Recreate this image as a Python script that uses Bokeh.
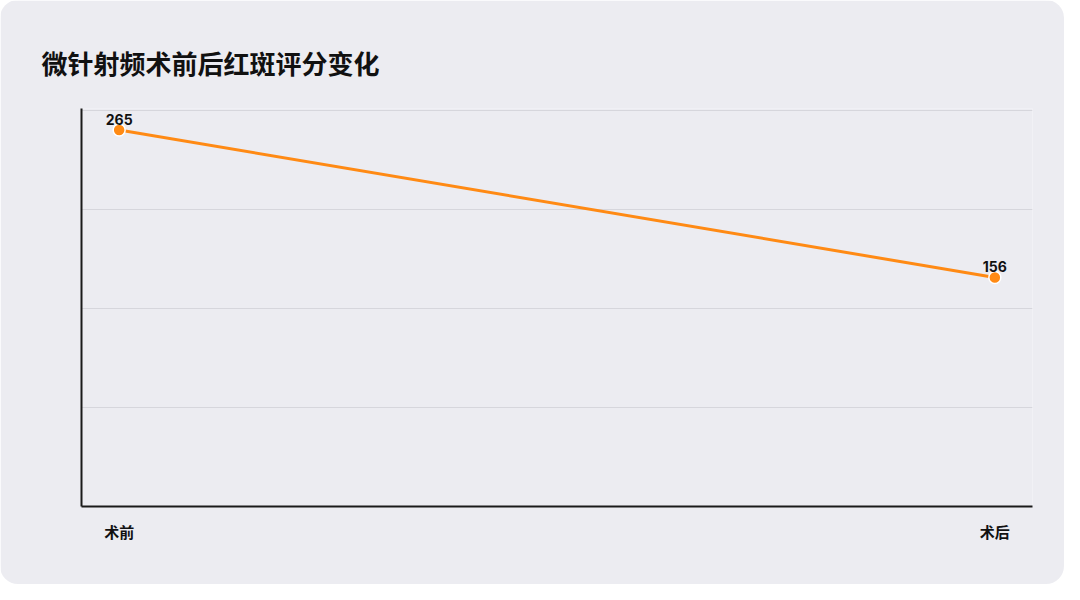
from bokeh.plotting import figure
from bokeh.models import Range1d, FixedTicker, ColumnDataSource, InlineStyleSheet
from bokeh.core.properties import value
from bokeh.embed import file_html
from bokeh.resources import INLINE

title = "微针射频术前后红斑评分变化"
categories = ["术前", "术后"]
scores = [265, 156]

x_pos = list(range(len(categories)))
src = ColumnDataSource(dict(x=x_pos, y=scores, label=[str(v) for v in scores]))

BG = "#ECECF1"
y_lo, y_hi = -13.3, 279.4
y_ticks = [y_lo + i * (y_hi - y_lo) / 4 for i in range(5)]

p = figure(width=1064, height=584, output_backend="svg", toolbar_location=None,
           x_range=Range1d(-0.043, len(categories) - 1 + 0.043),
           y_range=Range1d(y_lo, y_hi + 1.5),
           min_border_left=81, min_border_right=32, min_border_top=108, min_border_bottom=78)
p.stylesheets = [InlineStyleSheet(css=":host { border-radius: 18px; overflow: hidden; }")]
p.background_fill_color = BG
p.border_fill_color = BG
p.outline_line_color = None

p.title.text = title
p.title.text_font = "Noto Sans CJK SC"
p.title.text_font_size = "26px"
p.title.text_font_style = "bold"
p.title.text_color = "#111111"
p.title.offset = -40
p.title.vertical_align = "top"
p.title.standoff = 52

p.xaxis.ticker = FixedTicker(ticks=x_pos)
p.xaxis.major_label_overrides = {i: c for i, c in zip(x_pos, categories)}
p.xaxis.major_label_text_font = "Noto Sans CJK SC"
p.xaxis.major_label_text_font_size = "15px"
p.xaxis.major_label_text_font_style = "bold"
p.xaxis.major_label_text_color = "#111111"
p.xaxis.major_label_standoff = 8
p.xaxis.major_tick_line_color = None
p.xaxis.minor_tick_line_color = None
p.xaxis.axis_line_color = "#1a1a1a"
p.xaxis.axis_line_width = 2

p.yaxis.ticker = FixedTicker(ticks=y_ticks)
p.yaxis.major_label_overrides = {t: "" for t in y_ticks}
p.yaxis.major_label_standoff = 0
p.yaxis.major_tick_line_color = None
p.yaxis.minor_tick_line_color = None
p.yaxis.axis_line_color = "#1a1a1a"
p.yaxis.axis_line_width = 2

p.xgrid.grid_line_color = None
p.ygrid.grid_line_color = "#D6D6DC"
p.ygrid.grid_line_width = 1

p.line("x", "y", source=src, line_color="#FF8A14", line_width=3)
p.scatter("x", "y", source=src, size=12, fill_color="#FF8A14", line_color="white", line_width=1.5)
p.text("x", "y", text="label", source=src, text_align="center", text_baseline="bottom",
       y_offset=-5, text_font=value("Inter"), text_font_size="14px", text_font_style="bold",
       text_color="#111111")

open("out.html", "w").write(file_html(p, INLINE))
